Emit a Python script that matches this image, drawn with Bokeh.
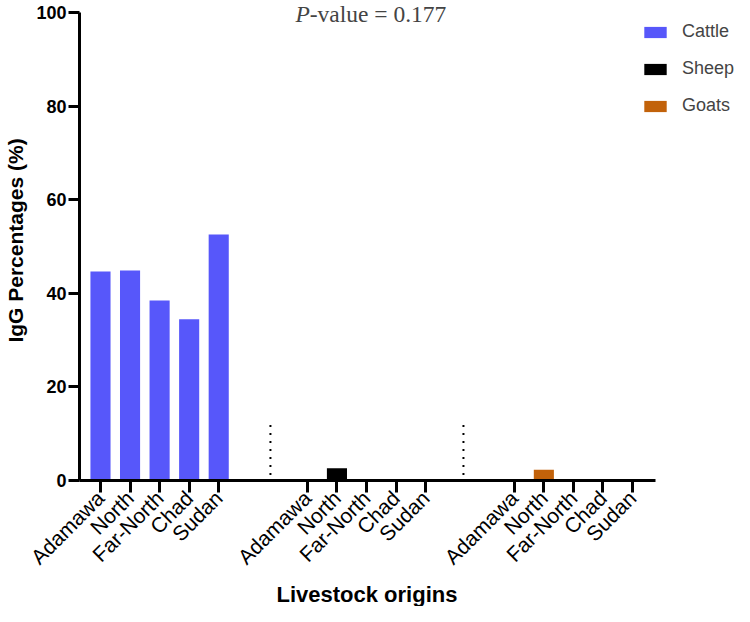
from math import pi
from bokeh.plotting import figure
from bokeh.models import (ColumnDataSource, FixedTicker, Legend, LegendItem,
                          Label, Range1d, Title)
from bokeh.embed import file_html
from bokeh.resources import INLINE

# ---- data ----
origins = ["Adamawa", "North", "Far-North", "Chad", "Sudan"]
species = ["Cattle", "Sheep", "Goats"]
cattle = [44.7, 44.9, 38.5, 34.5, 52.6]
sheep = [0.0, 2.6, 0.0, 0.0, 0.0]
goats = [0.0, 2.3, 0.0, 0.0, 0.0]
y_ticks = [0, 20, 40, 60, 80, 100]
p_label = "P"
p_rest = "-value = 0.177"
x_title = "Livestock origins"
y_title = "IgG Percentages (%)"

# ---- styling / layout ----
colors = ["#5757FA", "#000000", "#C2620A"]
group_start = [0, 7, 14]
bar_width = 0.68
FONT = "Liberation Sans"

p = figure(width=734, height=606, output_backend="svg", toolbar_location=None,
           x_range=Range1d(-0.71, 21.45), y_range=Range1d(0, 102.67),
           min_border_left=79, min_border_right=0, min_border_top=0,
           min_border_bottom=126)
p.outline_line_color = None
p.xgrid.visible = False
p.ygrid.visible = False
p.background_fill_color = "white"

series = [cattle, sheep, goats]
renderers = []
ticks = []
overrides = {}
for gs, vals, col in zip(group_start, series, colors):
    xs = [gs + i for i in range(len(origins))]
    ticks += xs
    for x, name in zip(xs, origins):
        overrides[x] = name
    src = ColumnDataSource(dict(x=xs, top=vals))
    r = p.vbar(x="x", top="top", width=bar_width, source=src,
               fill_color=col, line_color=None)
    renderers.append(r)

# dotted separators
sep_x = [5.75, 12.28]
p.segment(x0=sep_x, y0=[1.2, 1.2], x1=sep_x, y1=[12.3, 12.3],
          line_color="black", line_width=2, line_dash="2 6")

# axes
for ax in (p.xaxis[0], p.yaxis[0]):
    ax.axis_line_width = 3
    ax.axis_line_color = "black"
    ax.major_tick_line_width = 3
    ax.major_tick_line_color = "black"
    ax.major_tick_in = 0
    ax.minor_tick_line_color = None
    ax.major_label_text_color = "black"

p.xaxis.ticker = FixedTicker(ticks=ticks)
p.xaxis.major_label_overrides = overrides
p.xaxis.major_label_orientation = pi / 4
p.xaxis.bounds = (-0.71, 18.78)
p.xaxis.major_tick_out = 12
p.xaxis.major_label_standoff = 2
p.xaxis.major_label_text_font = FONT
p.xaxis.major_label_text_font_size = "21px"

p.yaxis.ticker = FixedTicker(ticks=y_ticks)
p.yaxis.bounds = (0, 100)
p.yaxis.major_tick_out = 11
p.yaxis.major_label_standoff = 2
p.yaxis.major_label_text_font = FONT
p.yaxis.major_label_text_font_size = "18px"
p.yaxis.major_label_text_font_style = "bold"
p.yaxis.axis_label = y_title
p.yaxis.axis_label_text_color = "black"
p.yaxis.axis_label_text_font = FONT
p.yaxis.axis_label_text_font_size = "21px"
p.yaxis.axis_label_text_font_style = "bold"
p.yaxis.axis_label_standoff = 6

# x-axis title, placed below the tick labels, centred under the axis line
p.add_layout(Title(text=x_title, align="left", offset=197, standoff=0,
                   text_font=FONT, text_font_size="22px",
                   text_font_style="bold", text_color="black"), "below")

# P-value annotation
p.add_layout(Label(x=7.08, y=102.67, text=p_label, text_align="right",
                   text_baseline="top", text_font="Liberation Serif",
                   text_font_size="23.5px", text_font_style="italic"))
p.add_layout(Label(x=7.08, y=102.67, text=p_rest, text_align="left",
                   text_baseline="top", text_font="Liberation Serif",
                   text_font_size="23.5px"))

legend = Legend(items=[LegendItem(label=s, renderers=[r])
                       for s, r in zip(species, renderers)],
                location=(562, 364), glyph_width=28, glyph_height=14,
                label_standoff=13, spacing=16, padding=0, margin=0,
                label_text_font=FONT, label_text_font_size="18px",
                border_line_color=None, background_fill_alpha=0)
p.add_layout(legend)

open("out.html", "w").write(file_html(p, INLINE))
